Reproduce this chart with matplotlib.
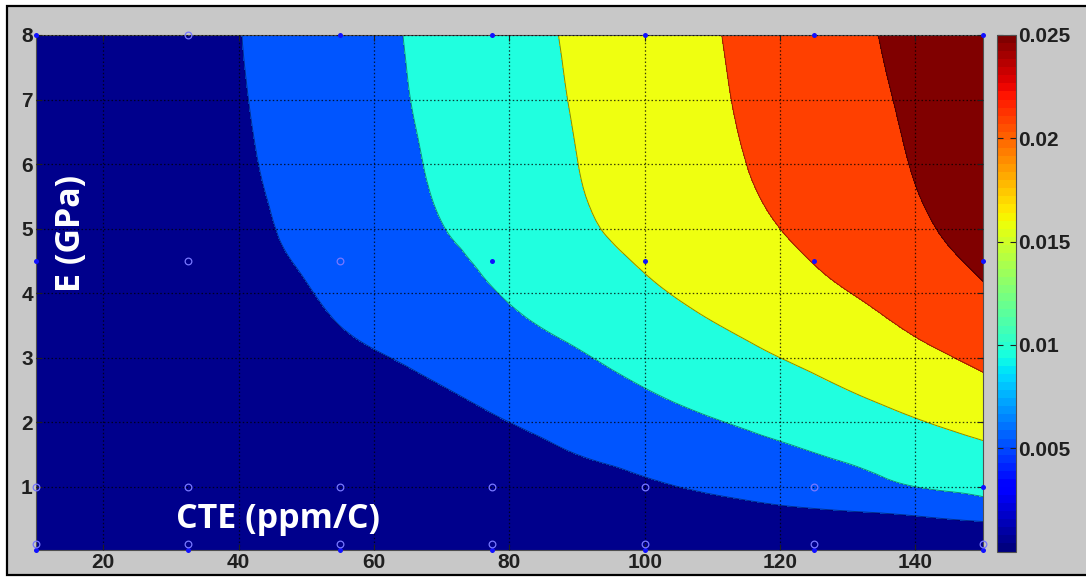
import numpy as np
import matplotlib
matplotlib.use("Agg")
import matplotlib.pyplot as plt
import matplotlib.tri as mtri
from matplotlib.patches import Rectangle
from matplotlib.colors import Normalize
from matplotlib.cm import ScalarMappable

# CTE (ppm/C) columns and modulus E (GPa) rows of the response table
cte = [10, 20, 30, 40, 50, 60, 70, 80, 90, 100, 110, 120, 130, 140, 150]
modulus = [0.0, 0.25, 0.5, 0.75, 1.0, 1.5, 2.0, 2.5, 3.0, 3.5, 4.0, 4.5, 5.0, 6.0, 7.0, 8.0]

response = [
    [0, 0, 0, 0, 0, 0, 0, 0, 0, 0.0001, 0.0001, 0.0002, 0.0003, 0.0004, 0.0005],
    [0, 0, 0, 0, 0, 0, 0, 0.0001, 0.0002, 0.0004, 0.0007, 0.0010, 0.0013, 0.0017, 0.0022],
    [0, 0, 0, 0, 0, 0, 0.0001, 0.0003, 0.0007, 0.0013, 0.0020, 0.0030, 0.0036, 0.0044, 0.0056],
    [0, 0, 0, 0, 0, 0.0001, 0.0003, 0.0008, 0.0017, 0.0028, 0.0040, 0.0053, 0.0063, 0.0074, 0.0091],
    [0, 0, 0, 0, 0.0001, 0.0003, 0.0007, 0.0016, 0.0029, 0.0043, 0.0057, 0.0069, 0.0081, 0.0100, 0.0111],
    [0, 0, 0, 0.0001, 0.0003, 0.0009, 0.0019, 0.0033, 0.0050, 0.0062, 0.0077, 0.0091, 0.0107, 0.0125, 0.0140],
    [0, 0, 0, 0.0002, 0.0006, 0.0019, 0.0034, 0.0050, 0.0066, 0.0081, 0.0097, 0.0113, 0.0130, 0.0147, 0.0165],
    [0, 0, 0.0002, 0.0005, 0.0015, 0.0031, 0.0048, 0.0065, 0.0082, 0.0099, 0.0116, 0.0132, 0.0150, 0.0168, 0.0189],
    [0, 0.0001, 0.0005, 0.0013, 0.0029, 0.0046, 0.0063, 0.0080, 0.0096, 0.0114, 0.0132, 0.0150, 0.0168, 0.0188, 0.0209],
    [0, 0.0002, 0.0009, 0.0023, 0.0041, 0.0059, 0.0076, 0.0093, 0.0110, 0.0129, 0.0148, 0.0166, 0.0184, 0.0206, 0.0228],
    [0, 0.0003, 0.0012, 0.0029, 0.0048, 0.0066, 0.0085, 0.0103, 0.0123, 0.0143, 0.0162, 0.0180, 0.0199, 0.0221, 0.0245],
    [0, 0.0004, 0.0015, 0.0034, 0.0054, 0.0072, 0.0092, 0.0111, 0.0133, 0.0154, 0.0173, 0.0191, 0.0212, 0.0234, 0.0257],
    [0, 0.0005, 0.0019, 0.0038, 0.0059, 0.0077, 0.0099, 0.0118, 0.0142, 0.0163, 0.0181, 0.0200, 0.0221, 0.0243, 0.0266],
    [0, 0.0006, 0.0023, 0.0044, 0.0064, 0.0084, 0.0106, 0.0127, 0.01496, 0.0170, 0.0190, 0.0210, 0.0231, 0.0252, 0.0273],
    [0, 0.0007, 0.0025, 0.0047, 0.0067, 0.0088, 0.0110, 0.0131, 0.0153, 0.0173, 0.0194, 0.0215, 0.0236, 0.0257, 0.0279],
    [0, 0.0008, 0.0028, 0.0049, 0.0070, 0.0091, 0.0112, 0.0134, 0.0156, 0.0176, 0.0197, 0.0218, 0.0240, 0.0262, 0.0284],
]

levels = [-1.0, 0.005, 0.010, 0.015, 0.020, 0.025, 1.0]
band_colors = ["#00008c", "#0055ff", "#20ffdf", "#efff10", "#ff4000", "#800000"]

# sampled design points
filled_x = [10, 55, 77.5, 100, 125, 150, 10, 77.5, 100, 125, 150, 150,
            10, 32.5, 55, 77.5, 100, 125, 150]
filled_y = [8, 8, 8, 8, 8, 8, 4.5, 4.5, 4.5, 4.5, 4.5, 1,
            0.02, 0.02, 0.02, 0.02, 0.02, 0.02, 0.02]
open_x = [32.5, 32.5, 55, 10, 32.5, 55, 77.5, 100, 125,
          10, 32.5, 55, 77.5, 100, 125, 150]
open_y = [8, 4.5, 4.5, 1, 1, 1, 1, 1, 1,
          0.12, 0.12, 0.12, 0.12, 0.12, 0.12, 0.12]

x_ticks = [20, 40, 60, 80, 100, 120, 140]
y_ticks = [1, 2, 3, 4, 5, 6, 7, 8]
cbar_ticks = [0.005, 0.010, 0.015, 0.020, 0.025]
cbar_labels = ["0.005", "0.01", "0.015", "0.02", "0.025"]

# smooth surface: triangulate the table (E axis stretched so cells are roughly square),
# then let matplotlib's cubic refiner round off the level curves
nx, ny = len(cte), len(modulus)
stretch = 17.5
gx, gy = np.meshgrid(np.asarray(cte, float), np.asarray(modulus, float) * stretch)
tris = []
for j in range(ny - 1):
    for i in range(nx - 1):
        a = j * nx + i
        b, c, d = a + 1, a + nx, a + nx + 1
        tris += [[a, b, d], [a, d, c]]
base = mtri.Triangulation(gx.ravel(), gy.ravel(), np.array(tris))
fine, zf = mtri.UniformTriRefiner(base).refine_field(
    np.asarray(response, float).ravel(), subdiv=3)
surface = mtri.Triangulation(fine.x, fine.y / stretch, fine.triangles)

W, H = 1086, 577
fig = plt.figure(figsize=(W / 100, H / 100), dpi=100)
fig.patch.set_facecolor("white")
fig.patches.append(Rectangle((7 / W, 2 / H), 1.0, 1 - 8 / H, transform=fig.transFigure,
                             facecolor="#c8c8c8", edgecolor="black", linewidth=1.6, zorder=-5))

tick_font = dict(family="Liberation Sans", weight="bold", size=15)

ax = fig.add_axes([35.6 / W, 1 - 550 / H, (983 - 35.6) / W, (550 - 35) / H])
ax.tricontourf(surface, zf, levels=levels, colors=band_colors, zorder=1)
ax.tricontour(surface, zf, levels=levels[1:-1], colors="k",
              linewidths=0.7, alpha=0.45, zorder=2)

ax.set_xlim(10, 150)
ax.set_ylim(0.02, 8)
ax.set_xticks(x_ticks)
ax.set_yticks(y_ticks)
ax.set_xticklabels([str(t) for t in x_ticks], fontdict=tick_font)
ax.set_yticklabels([str(t) for t in y_ticks], fontdict=tick_font)
ax.tick_params(direction="in", length=4, width=0.8, pad=2, colors="#202020",
               top=True, right=True)
ax.set_axisbelow(False)
ax.grid(True, color="black", linestyle=(0, (1.2, 1.8)), linewidth=0.9, alpha=0.75)
for s in ax.spines.values():
    s.set_color("#505050")
    s.set_linewidth(0.8)

ax.plot(filled_x, filled_y, "o", color="#1010ff", ms=3.6, mew=0, clip_on=False, zorder=5)
ax.plot(open_x, open_y, "o", mfc="none", mec="#7878ff", ms=4.8, mew=0.9,
        clip_on=False, zorder=5)

label_font = dict(family="Open Sans", weight="bold", size=24.5, color="white")
ax.text(30.8, 0.36, "CTE (ppm/C)", ha="left", va="baseline", zorder=6, **label_font)
ax.text(15.2, 4.93, "E (GPa)", rotation=90, ha="center", va="center", zorder=6, **label_font)

cax = fig.add_axes([997 / W, 1 - 551.5 / H, 18.7 / W, (551.5 - 35) / H])
sm = ScalarMappable(norm=Normalize(0, 0.025), cmap=plt.get_cmap("jet", 64))
cb = fig.colorbar(sm, cax=cax, ticks=cbar_ticks)
cb.ax.set_yticklabels(cbar_labels, fontdict=tick_font)
cb.ax.tick_params(direction="in", length=4, width=0.8, pad=2, left=True, right=True,
                  colors="#202020")
cb.outline.set_edgecolor("#505050")
cb.outline.set_linewidth(0.8)

fig.savefig("out.png", dpi=100)
